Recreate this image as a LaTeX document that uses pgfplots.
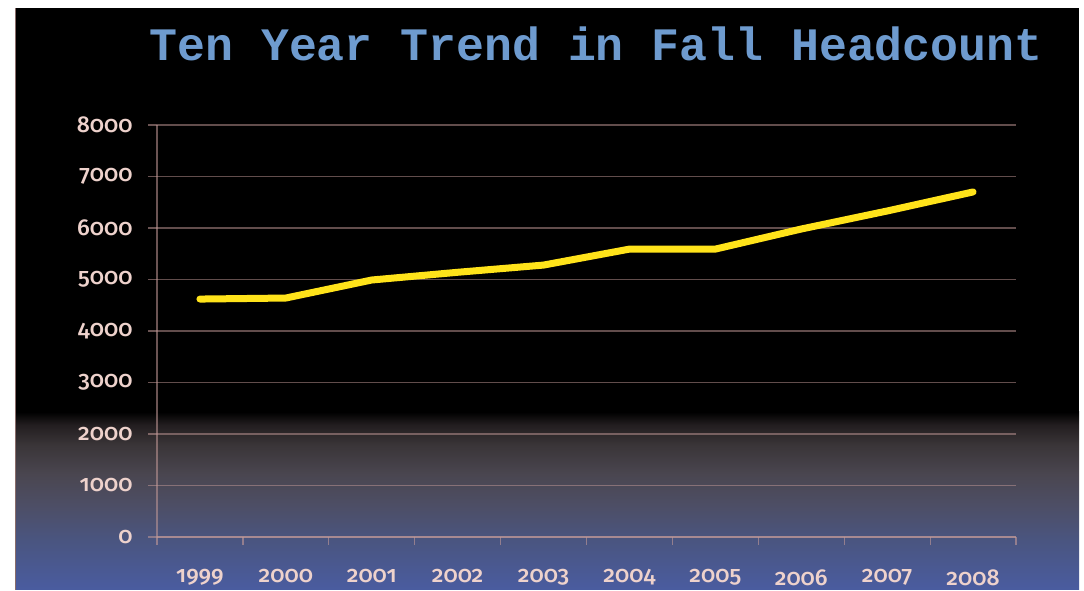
\documentclass[border=0pt]{standalone}
\usepackage{pgfplots}
\pgfplotsset{compat=1.18}
\usepackage{fontspec}
\setmainfont{Fira Sans}[Numbers=OldStyle]
\newfontfamily\lblfont{Fira Sans Medium}[Numbers=OldStyle]
\newfontfamily\titlefont{Liberation Mono}
\definecolor{gridc}{HTML}{C49A98}
\definecolor{lblc}{HTML}{EED2CC}
\definecolor{titlec}{HTML}{6E9BCF}
\definecolor{linec}{HTML}{FFE31A}
\definecolor{g1}{HTML}{4A5CA0}
\definecolor{g2}{HTML}{4A5580}
\definecolor{g3}{HTML}{4D4E65}
\definecolor{g4}{HTML}{4A4650}
\definecolor{g5}{HTML}{3A3538}
\definecolor{g6}{HTML}{231E20}
\pgfdeclareverticalshading{bgshade}{100bp}{color(0bp)=(g1); color(25bp)=(g1); color(39bp)=(g2); color(49bp)=(g3); color(57.5bp)=(g4); color(65.75bp)=(g5); color(71.35bp)=(g6); color(75bp)=(black); color(100bp)=(black)}
\begin{document}
\begin{tikzpicture}[x=1pt,y=1pt]
\fill[white] (0,0) rectangle (1084,590);
\fill[black] (15,0) rectangle (1079,582);
\shade[shading=bgshade] (15,0) rectangle (1079,178);
\draw[color=gridc!70!black, line width=1pt] (15.5,0) -- (15.5,582);
\node[text=titlec, anchor=base] at (596,529) {\titlefont\bfseries\fontsize{46.5}{50}\selectfont Ten Year Trend in Fall Headcount};
\begin{axis}[
  at={(157pt,53pt)}, anchor=south west,
  scale only axis, width=859pt, height=412pt,
  xmin=-0.5, xmax=9.5, ymin=0, ymax=8000,
  axis lines*=left, axis line style={-, draw=gridc, draw opacity=0.55, line width=1.2pt},
  xtick={0,...,9},
  xticklabels={1999,2000,2001,2002,2003,2004,2005,2006,2007,2008},
  minor xtick={-0.5,0.5,...,9.5},
  ytick={0,1000,...,8000},
  tick align=outside,
  major tick length=9pt, minor tick length=8pt,
  x tick style={draw=none},
  minor x tick style={draw=gridc, draw opacity=0.6, line width=1.2pt},
  y tick style={draw=gridc, draw opacity=0.55, line width=1.2pt},
  ymajorgrids,
  major grid style={draw=gridc, draw opacity=0.5, line width=1.4pt},
  /pgf/number format/1000 sep={},
  /pgf/number format/assume math mode=true,
  ticklabel style={text=lblc, font=\lblfont\fontsize{23}{25}\selectfont},
  xticklabel style={yshift=-20pt},
  yticklabel style={xshift=-12pt},
]
\addplot[color=linec, line width=7pt, line cap=round, line join=round] coordinates {
(0,4620) (1,4640) (2,4990) (3,5140) (4,5280) (5,5590) (6,5590) (7,5980) (8,6330) (9,6700)
};
\end{axis}
\end{tikzpicture}
\end{document}
